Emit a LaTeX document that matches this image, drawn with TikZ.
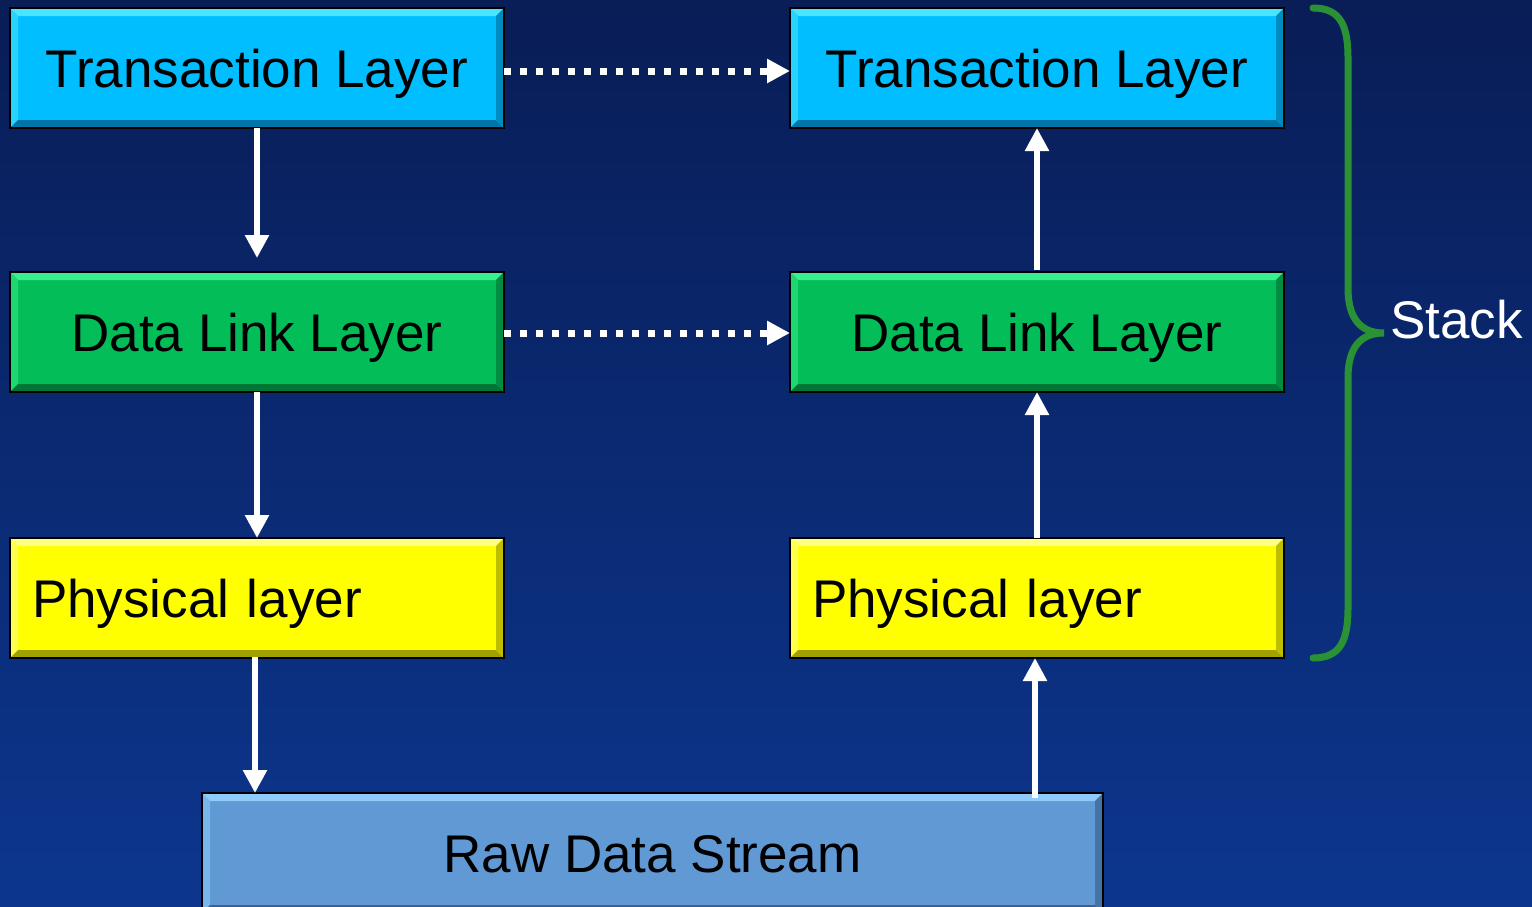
\documentclass[tikz,border=0pt]{standalone}
\usepackage{fontspec}
\setmainfont{Liberation Sans}
\usetikzlibrary{arrows.meta,calc}

\definecolor{bgtop}{RGB}{9,29,86}
\definecolor{bgbot}{RGB}{12,54,142}
\definecolor{bracegreen}{RGB}{42,145,52}
% layer colours: face, top bevel, left bevel, bottom bevel, right bevel
\definecolor{cyface}{RGB}{0,190,255}
\definecolor{cytop}{RGB}{75,228,255}
\definecolor{cyleft}{RGB}{40,212,255}
\definecolor{cybot}{RGB}{0,118,168}
\definecolor{cyright}{RGB}{0,140,192}
\definecolor{grface}{RGB}{3,190,88}
\definecolor{grtop}{RGB}{55,240,145}
\definecolor{grleft}{RGB}{30,215,112}
\definecolor{grbot}{RGB}{0,118,52}
\definecolor{grright}{RGB}{0,140,65}
\definecolor{yeface}{RGB}{255,255,0}
\definecolor{yetop}{RGB}{255,255,130}
\definecolor{yeleft}{RGB}{255,255,80}
\definecolor{yebot}{RGB}{160,160,0}
\definecolor{yeright}{RGB}{190,190,0}
\definecolor{rwface}{RGB}{96,153,212}
\definecolor{rwtop}{RGB}{142,202,250}
\definecolor{rwleft}{RGB}{120,182,236}
\definecolor{rwbot}{RGB}{58,98,148}
\definecolor{rwright}{RGB}{70,115,166}

\tikzset{
  layerbox/.style={minimum width=494pt, minimum height=120pt, inner sep=0pt,
    outer sep=0pt, font=\fontsize{53}{60}\selectfont, text height=38pt,
    text depth=0pt},
  leftalign/.style={text width=450pt, align=left},
  flowarrow/.style={draw=white, line width=5.5pt,
    -{Triangle[length=23pt,width=23pt]}},
  peerarrow/.style={draw=white, line width=7pt, dash pattern=on 7pt off 9pt,
    -{Triangle[length=23pt,width=23pt]}},
}

% bevelled frame round a named box: #1 node, #2 top, #3 left, #4 bottom, #5 right
\newcommand\bevelframe[5]{%
  \fill[#2] (#1.north west) -- (#1.north east)
    -- ($(#1.north east)+(-8pt,-8pt)$) -- ($(#1.north west)+(8pt,-8pt)$) -- cycle;
  \fill[#3] (#1.north west) -- ($(#1.north west)+(8pt,-8pt)$)
    -- ($(#1.south west)+(8pt,8pt)$) -- (#1.south west) -- cycle;
  \fill[#4] (#1.south west) -- ($(#1.south west)+(8pt,8pt)$)
    -- ($(#1.south east)+(-8pt,8pt)$) -- (#1.south east) -- cycle;
  \fill[#5] (#1.north east) -- (#1.south east)
    -- ($(#1.south east)+(-8pt,8pt)$) -- ($(#1.north east)+(-8pt,-8pt)$) -- cycle;
  \draw[black, line width=2pt] (#1.north west) rectangle (#1.south east);
}

\begin{document}
\begin{tikzpicture}[x=1pt, y=-1pt]
  \useasboundingbox (0,0) rectangle (1532,906);
  \shade[top color=bgtop, bottom color=bgbot] (0,0) rectangle (1532,906);

  % sending stack
  \node[layerbox, fill=cyface] (tl1) at (257,68) {Transaction Layer};
  \node[layerbox, fill=grface] (dl1) at (257,332) {Data Link Layer};
  \node[layerbox, leftalign, inner xsep=22pt, fill=yeface] (pl1) at (257,598) {Physical layer};

  % receiving stack
  \node[layerbox, fill=cyface] (tl2) at (1037,68) {Transaction Layer};
  \node[layerbox, fill=grface] (dl2) at (1037,332) {Data Link Layer};
  \node[layerbox, leftalign, inner xsep=22pt, fill=yeface] (pl2) at (1037,598) {Physical layer};

  % shared medium
  \node[layerbox, minimum width=901pt, fill=rwface] (raw) at (652.5,853) {Raw Data Stream};

  \bevelframe{tl1}{cytop}{cyleft}{cybot}{cyright}
  \bevelframe{tl2}{cytop}{cyleft}{cybot}{cyright}
  \bevelframe{dl1}{grtop}{grleft}{grbot}{grright}
  \bevelframe{dl2}{grtop}{grleft}{grbot}{grright}
  \bevelframe{pl1}{yetop}{yeleft}{yebot}{yeright}
  \bevelframe{pl2}{yetop}{yeleft}{yebot}{yeright}
  \bevelframe{raw}{rwtop}{rwleft}{rwbot}{rwright}

  % down the sending stack
  \draw[flowarrow, shorten >=14pt] (tl1.south) -- (dl1.north);
  \draw[flowarrow] (dl1.south) -- (pl1.north);
  \draw[flowarrow, shorten <=-1pt] ([xshift=-2pt]pl1.south) -- ([xshift=-2pt]pl1.south |- raw.north);

  % up the receiving stack
  \draw[flowarrow, shorten <=-5pt] ([xshift=-2pt]pl2.south |- raw.north) -- ([xshift=-2pt]pl2.south);
  \draw[flowarrow] (pl2.north) -- (dl2.south);
  \draw[flowarrow, shorten <=2pt] (dl2.north) -- (tl2.south);

  % peer-to-peer links
  \draw[peerarrow] ([yshift=-3pt]tl1.east) -- ([yshift=-3pt]tl2.west);
  \draw[peerarrow] ([yshift=-1pt]dl1.east) -- ([yshift=-1pt]dl2.west);

  % brace grouping the receiving stack
  \coordinate (tip) at (1384,333);
  \draw[bracegreen, line width=7pt, line cap=round]
    (1313,8) .. controls (1340,8) and (1348,25) .. (1348,58)
    -- (1348,288) .. controls (1348,318) and (1360,333) .. (tip)
    .. controls (1360,333) and (1348,348) .. (1348,378)
    -- (1348,608) .. controls (1348,641) and (1340,658) .. (1313,658);
  \node[anchor=base west, inner sep=0pt, text=white,
    font=\fontsize{53}{60}\selectfont] (stack) at ($(tip)+(6pt,-5pt)$) {Stack};
\end{tikzpicture}
\end{document}
